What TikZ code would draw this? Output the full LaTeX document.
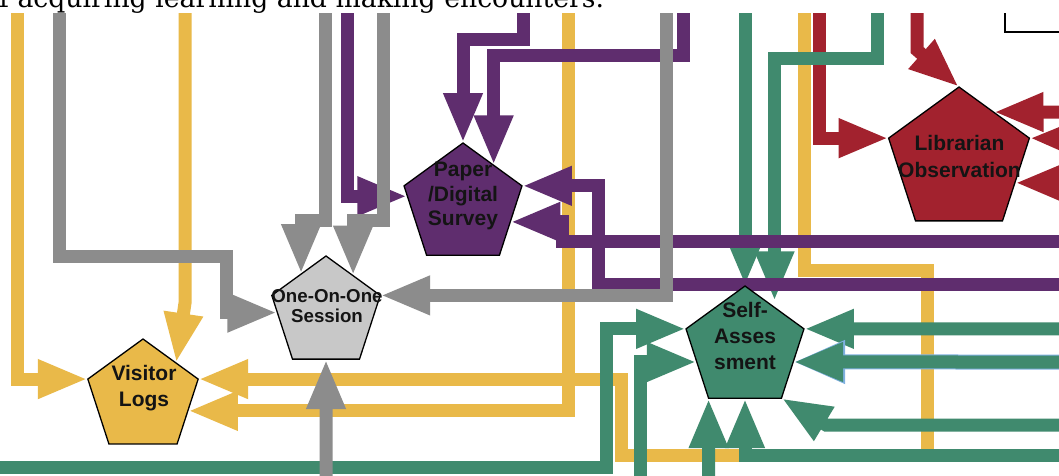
\documentclass[tikz,border=0pt]{standalone}
\usepackage{fontspec}
\newfontfamily\lsans{Liberation Sans}
\newfontfamily\dserif{DejaVu Serif}
\usetikzlibrary{arrows.meta,shapes.geometric,calc}
\definecolor{yl}{HTML}{E9B949}
\definecolor{gy}{HTML}{8C8C8C}
\definecolor{lg}{HTML}{C8C8C8}
\definecolor{pu}{HTML}{5F2D6E}
\definecolor{rd}{HTML}{A2222E}
\definecolor{gn}{HTML}{408A6E}
\definecolor{bl}{HTML}{7FB0E0}
\pgfdeclarelayer{bg}
\pgfsetlayers{bg,main}
\begin{document}
\begin{tikzpicture}[x=1pt,y=-1pt,
  ln/.style={line width=13pt,-{Triangle[length=50pt,width=36pt]}},
  pent/.style={regular polygon,regular polygon sides=5,inner sep=0pt,outer sep=0pt,draw=black,line width=1.3pt},
  lab/.style={align=center,text=black!92,font={\lsans\bfseries\fontsize{21}{26}\selectfont}}]
\clip (0,0) rectangle (1059,475);

% top text line (cut off)
\node[anchor=base west,inner sep=0pt,font={\dserif\fontsize{26.7}{30}\selectfont}] (toptext) at (-1,7) {f acquiring learning and making encounters.};

% pentagons
\node[pent,minimum size=116pt,fill=yl] (vl) at (143,397) {};
\node[pent,minimum size=114pt,fill=lg] (oo) at (326,313) {};
\node[pent,minimum size=124pt,fill=pu] (ps) at (463,205) {};
\node[pent,minimum size=148pt,fill=rd] (lo) at (959,161) {};
\node[pent,minimum size=124pt,fill=gn] (sa) at (745,348) {};

% free ends
\coordinate (y1s) at (17,13);
\coordinate (y2s) at (185,13);
\coordinate (y3s) at (804,13);
\coordinate (y4s) at (568,13);
\coordinate (r1s) at (819,13);
\coordinate (r2s) at (917,13);
\coordinate (r3s) at (1075,112);
\coordinate (r4s) at (1090,139);
\coordinate (r5s) at (1090,183);
\coordinate (g1s) at (745,13);
\coordinate (g2s) at (877,13);
\coordinate (gas) at (1075,328.8);
\coordinate (gbs) at (1075,362);
\coordinate (gcs) at (1075,425);
\coordinate (gds) at (1075,455);
\coordinate (gus) at (708.6,485);
\coordinate (g4a) at (-10,467);
\coordinate (g4b) at (640,485);
\coordinate (p1s) at (347,13);
\coordinate (p2s) at (523,13);
\coordinate (p3s) at (683,13);
\coordinate (p4s) at (1075,284);
\coordinate (p5s) at (1075,241);
\coordinate (gy1) at (59,13);
\coordinate (gy2) at (325,13);
\coordinate (gy3) at (383,13);
\coordinate (gy4) at (666,13);
\coordinate (gy5) at (326,485);
\coordinate (bk) at (1005,13);

\begin{pgfonlayer}{bg}
\clip (0,0) rectangle (1059,475);
\fill[white] (0,0) rectangle (1059,475);
% yellow
\draw[ln,yl] (y1s) |- (vl.corner 2);
\draw[ln,yl] (y2s) -- ++(0,290) -- ($(vl.corner 1)!0.6!(vl.corner 5)$);
\draw[ln,yl] (y3s) -- (804,270) -- (927,270) -- (927,455) -- (621,455) |- (vl.corner 5);
\draw[ln,yl] (y4s) |- ($(vl.corner 5)!0.49!(vl.corner 4)$);
% red
\draw[ln,rd] (r1s) |- (lo.corner 2);
\draw[ln,rd] (r2s) -- ++(0,37) -- (lo.corner 1);
\draw[ln,rd] (r3s) -- ($(lo.corner 1)!0.49!(lo.corner 5)$);
\draw[ln,rd] (r4s) -- (lo.corner 5);
\draw[ln,rd] (r5s) -- ($(lo.corner 5)!0.54!(lo.corner 4)$);
% green
\draw[ln,gn] (g1s) -- (sa.corner 1);
\draw[ln,gn] (g2s) -- ++(0,45) -| ($(sa.corner 1)!0.5!(sa.corner 5)+(0,-6)$);
\draw[ln,gn] (gas) -- (sa.corner 5);
\draw[line width=15pt,bl,-{Triangle[length=52pt,width=40pt]}] (gbs) -- ($(sa.corner 5)!0.478!(sa.corner 4)$);
\draw[ln,gn] (gbs) -- ($(sa.corner 5)!0.478!(sa.corner 4)$);
\draw[ln,gn] (gcs) -- (826,425) -- (sa.corner 4);
\draw[ln,gn] (gds) -| ($(sa.corner 3)!0.5!(sa.corner 4)$);
\draw[ln,gn] (gus) -- (sa.corner 3);
\draw[ln,gn] (g4a) -- (606,467) |- (sa.corner 2);
\draw[ln,gn] (g4b) |- ($(sa.corner 2)!0.478!(sa.corner 3)$);
% purple
\draw[ln,pu] (p1s) |- ($(ps.corner 2)!0.15!(ps.corner 3)$);
\draw[ln,pu] (p2s) -- ++(0,26) -| (ps.corner 1);
\draw[ln,pu] (p3s) -- ++(0,42) -| ($(ps.corner 1)!0.52!(ps.corner 5)$);
\draw[ln,pu] (p4s) -- (598,284) |- (ps.corner 5);
\draw[ln,pu] (p5s) -- (562,241) |- ($(ps.corner 5)!0.52!(ps.corner 4)$);
% gray
\draw[ln,gy] (gy1) -- (59,256) -- (226,256) |- ($(oo.corner 2)!0.27!(oo.corner 3)$);
\draw[ln,gy] (gy2) -- ++(0,207) -| ($(oo.corner 1)!0.46!(oo.corner 2)$);
\draw[ln,gy] (gy3) -- ++(0,207) -| ($(oo.corner 1)!0.5!(oo.corner 5)$);
\draw[ln,gy] (gy4) |- (oo.corner 5);
\draw[ln,gy] (gy5) -- ($(oo.corner 3)!0.5!(oo.corner 4)$);
% black partial box
\draw[line width=2pt] (bk) -- (1005,32) -- (1075,32);
\end{pgfonlayer}

% labels
\node[lab] (vlt) at (144,388.5) {Visitor\\Logs};
\node[lab,font={\lsans\bfseries\fontsize{18.7}{20}\selectfont}] (oot) at (327,306) {One-On-One\\Session};
\node[lab,font={\lsans\bfseries\fontsize{21}{24.5}\selectfont}] (pst) at (463,196) {Paper\\/Digital\\Survey};
\node[lab,font={\lsans\bfseries\fontsize{21}{27}\selectfont}] (lot) at (959.5,156.5) {Librarian\\Observation};
\node[lab] (sat) at (745,336) {Self-\\Asses\\sment};
\end{tikzpicture}
\end{document}
